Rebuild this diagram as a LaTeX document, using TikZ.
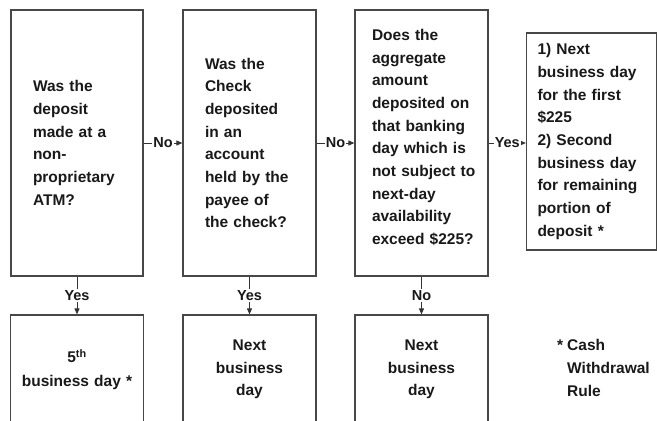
\documentclass[tikz,border=0pt]{standalone}
\usepackage{fontspec}
\setmainfont{Liberation Sans}
\usetikzlibrary{arrows.meta}
\begin{document}
\begin{tikzpicture}[x=1pt,y=-1pt,
  box/.style={draw=black!72, line width=1.2pt, fill=white, inner ysep=0pt, align=left,
    font=\bfseries\fontsize{15.5}{22.7}\selectfont, text=black!90},
  endbox/.style={draw=black!72, line width=1.2pt, fill=white, inner sep=0pt, align=center,
    minimum width=133pt, minimum height=109pt, text width=125pt,
    font=\bfseries\fontsize{15.5}{22.7}\selectfont, text=black!90},
  lbl/.style={fill=white, inner sep=1pt, font=\bfseries\fontsize{14.5}{16}\selectfont, text=black!90},
  arr/.style={draw=black!80, line width=1pt, -{Triangle[length=6pt,width=5pt]}},
]
\clip (0,0) rectangle (657,421);
\fill[white] (0,0) rectangle (657,421);

\node[box, minimum height=266pt, text width=88pt, inner xsep=22pt] (b1) at (77,143)
  {Was the\\deposit\\made at a\\non-\\proprietary\\ATM?};
\node[box, minimum height=266pt, text width=89pt, inner xsep=22pt] (b2) at (249.5,143)
  {Was the\\Check\\deposited\\in an\\account\\held by the\\payee of\\the check?};
\node[box, minimum height=266pt, minimum width=133pt, inner sep=0pt] (b3) at (421.5,143) {};
\node[align=left, inner sep=0pt, text width=120pt, font=\bfseries\fontsize{15.5}{22.7}\selectfont, text=black!90]
  (t3) at (432,137.5)
  {Does the\\aggregate\\amount\\deposited on\\that banking\\day which is\\not subject to\\next-day\\availability\\exceed \$225?};
\node[box, minimum height=217pt, text width=108pt, inner xsep=11pt] (b4) at (591.5,141.5)
  {1) Next\\business day\\for the first\\\$225\\2) Second\\business day\\for remaining\\portion of\\deposit *};

\node[endbox] (e1) at (77,369.5) {5\textsuperscript{th}\\[1pt]business day *};
\node[endbox] (e2) at (249.5,369.5) {Next\\business\\day};
\node[endbox] (e3) at (421.5,369.5) {Next\\business\\day};

\node[anchor=west, align=left, inner sep=0pt, font=\bfseries\fontsize{15.5}{22.7}\selectfont, text=black!90]
  (fn) at (567,368) {\llap{*\hspace{4pt}}Cash\\Withdrawal\\Rule};

\draw[arr] (b1) -- node[lbl]{No} (b2);
\draw[arr] (b2) -- node[lbl]{No} (b3);
\draw[arr] (b3.east) -- node[lbl]{Yes} (b3.east -| b4.west);
\draw[arr] (b1) -- node[lbl]{Yes} (e1);
\draw[arr] (b2) -- node[lbl]{Yes} (e2);
\draw[arr] (b3) -- node[lbl]{No} (e3);
\end{tikzpicture}
\end{document}
